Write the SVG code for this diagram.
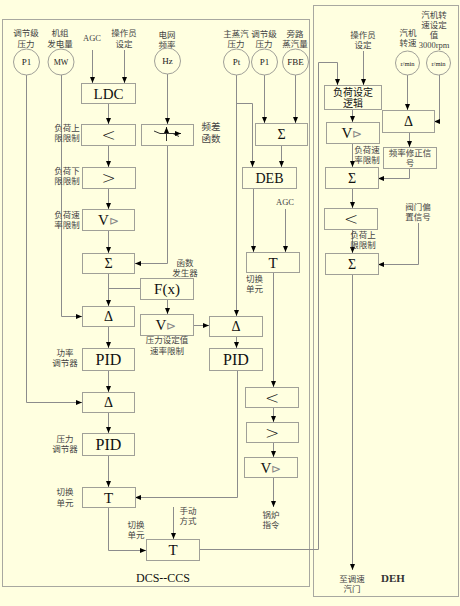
<svg xmlns="http://www.w3.org/2000/svg" width="460" height="606" viewBox="0 0 460 606">
<defs>
<marker id="a" markerWidth="6" markerHeight="6" refX="6" refY="3" orient="auto" markerUnits="userSpaceOnUse"><path d="M0,0.5 L6,3 L0,5.5 z" fill="#000"/></marker>
<style>
.bg{fill:#FFFFE0}
.frame{fill:none;stroke:#a8a8a0;stroke-width:1}
.box{fill:#FFFFE0;stroke:#a0a098;stroke-width:1}
.c{fill:none;stroke:#8c8c8c;stroke-width:1}
.ar{marker-end:url(#a)}
.lb{font-family:"Liberation Serif","Noto Sans CJK SC",serif;font-size:8.5px;fill:#444;text-anchor:middle}
.bt{font-family:"Liberation Serif","Noto Sans CJK SC",serif;font-size:15px;fill:#111;text-anchor:middle}
.cmp{font-family:"DejaVu Sans",sans-serif;font-size:17px;fill:#222;text-anchor:middle;font-weight:200}
.ct{font-family:"Liberation Serif",serif;font-size:9px;fill:#222;text-anchor:middle}
.gr{fill:#888}
</style>
</defs>
<rect class="bg" x="0" y="0" width="460" height="606"/>
<rect class="frame" x="2.5" y="19.5" width="307" height="567"/>
<rect class="frame" x="313.5" y="5.5" width="145" height="591"/>

<g id="connectors">
<path class="c ar" d="M92.5,50 V83"/>
<path class="c ar" d="M124.5,50 V83"/>
<path class="c ar" d="M108.5,103 V124"/>
<path class="c ar" d="M108.5,145 V167"/>
<path class="c ar" d="M108.5,188 V209"/>
<path class="c ar" d="M108.5,230 V253"/>
<path class="c ar" d="M108.5,273 V306"/>
<path class="c" d="M108.5,288.5 H140"/>
<path class="c ar" d="M108.5,326 V348"/>
<path class="c ar" d="M108.5,370 V392"/>
<path class="c ar" d="M108.5,412 V433"/>
<path class="c ar" d="M108.5,455 V487"/>
<path class="c ar" d="M108.5,507 V550.5 H146"/>
<path class="c ar" d="M61.5,75 V316.5 H82"/>
<path class="c ar" d="M26.5,75 V402.5 H82"/>
<path class="c ar" d="M167.5,74 V124"/>
<path class="c ar" d="M167.5,145 V263.5 H135"/>
<path class="c ar" d="M167.5,299 V314"/>
<path class="c ar" d="M193,325.5 H209"/>
<path class="c ar" d="M236.5,75 V316"/>
<path class="c ar" d="M236.5,103.5 H252.5 V167"/>
<path class="c ar" d="M264.5,75 V123"/>
<path class="c ar" d="M295.5,75 V123"/>
<path class="c ar" d="M281.5,145 V167"/>
<path class="c ar" d="M253.5,188 V252"/>
<path class="c ar" d="M285.5,209 V252"/>
<path class="c ar" d="M273.5,272 V387"/>
<path class="c ar" d="M273.5,407 V422"/>
<path class="c ar" d="M273.5,442 V457"/>
<path class="c ar" d="M273.5,477 V507"/>
<path class="c ar" d="M236.5,336 V348"/>
<path class="c ar" d="M237.5,370 V497.5 H135"/>
<path class="c ar" d="M173.5,507 V539"/>
<path class="c ar" d="M199,549.5 H318.5 V62.5 H337.5 V85"/>
<path class="c ar" d="M363.5,51 V85"/>
<path class="c ar" d="M352.5,109 V122"/>
<path class="c ar" d="M352.5,143 V167"/>
<path class="c ar" d="M407.5,75 V110"/>
<path class="c ar" d="M439.5,75 V121.5 H434"/>
<path class="c ar" d="M409.5,132 V147"/>
<path class="c ar" d="M409.5,168 V178.5 H378"/>
<path class="c ar" d="M352.5,188 V208"/>
<path class="c ar" d="M352.5,229 V253"/>
<path class="c ar" d="M418.5,223 V264.5 H378"/>
<path class="c ar" d="M352.5,274 V570"/>
</g>

<g id="src-p1-left"><text class="lb" x="26" y="36">调节级</text><text class="lb" x="26" y="47">压力</text><circle class="box" cx="26.5" cy="62" r="13"/><text class="ct" x="26.5" y="65">P1</text></g>
<g id="src-mw"><text class="lb" x="60" y="36">机组</text><text class="lb" x="60" y="47">发电量</text><circle class="box" cx="61" cy="62" r="13"/><text class="ct" x="61" y="65" style="font-size:8px">MW</text></g>
<g id="src-agc"><text class="lb" x="92" y="41">AGC</text></g>
<g id="src-op"><text class="lb" x="124" y="36">操作员</text><text class="lb" x="124" y="47">设定</text></g>
<g id="src-hz"><text class="lb" x="167" y="38">电网</text><text class="lb" x="167" y="48">频率</text><circle class="box" cx="167.5" cy="61" r="13"/><text class="ct" x="167.5" y="64">Hz</text></g>
<g id="src-pt"><text class="lb" x="236" y="37">主蒸汽</text><text class="lb" x="236" y="47">压力</text><circle class="box" cx="236.5" cy="62" r="13"/><text class="ct" x="236.5" y="65">Pt</text></g>
<g id="src-p1-right"><text class="lb" x="264" y="37">调节级</text><text class="lb" x="264" y="47">压力</text><circle class="box" cx="264.5" cy="62" r="13"/><text class="ct" x="264.5" y="65">P1</text></g>
<g id="src-fbe"><text class="lb" x="295" y="37">旁路</text><text class="lb" x="295" y="47">蒸汽量</text><circle class="box" cx="295.5" cy="62" r="13"/><text class="ct" x="295.5" y="65">FBE</text></g>

<g id="ldc"><rect class="box" x="81.5" y="83.5" width="54" height="20"/><text class="bt" x="108.5" y="99">LDC</text></g>
<g id="lim-up"><rect class="box" x="81.5" y="124.5" width="54" height="21"/><text class="cmp" x="108.5" y="141">&lt;</text><text class="lb" x="67" y="131">负荷上</text><text class="lb" x="67" y="141">限限制</text></g>
<g id="lim-down"><rect class="box" x="82.5" y="167.5" width="53" height="21"/><text class="cmp" x="108.5" y="184">&gt;</text><text class="lb" x="67" y="174">负荷下</text><text class="lb" x="67" y="184">限限制</text></g>
<g id="rate-load"><rect class="box" x="82.5" y="209.5" width="52" height="21"/><text class="bt" x="108.5" y="225">V<tspan class="gr" style="font-size:12px">⊳</tspan></text><text class="lb" x="67" y="218">负荷速</text><text class="lb" x="67" y="228">率限制</text></g>
<g id="sum-left"><rect class="box" x="82.5" y="253.5" width="52" height="20"/><text class="bt" x="108.5" y="268" style="font-size:14px">Σ</text></g>
<g id="delta-power"><rect class="box" x="82.5" y="306.5" width="52" height="20"/><text class="bt" x="108.5" y="321" style="font-size:14px">Δ</text></g>
<g id="pid-power"><rect class="box" x="82.5" y="348.5" width="52" height="22"/><text class="bt" x="108.5" y="365" style="font-size:16px">PID</text><text class="lb" x="65" y="356">功率</text><text class="lb" x="65" y="366">调节器</text></g>
<g id="delta-press"><rect class="box" x="82.5" y="392.5" width="52" height="20"/><text class="bt" x="108.5" y="407" style="font-size:14px">Δ</text></g>
<g id="pid-press"><rect class="box" x="82.5" y="433.5" width="52" height="22"/><text class="bt" x="108.5" y="450" style="font-size:16px">PID</text><text class="lb" x="65" y="442">压力</text><text class="lb" x="65" y="452">调节器</text></g>
<g id="t-left"><rect class="box" x="82.5" y="487.5" width="53" height="20"/><text class="bt" x="108.5" y="503">T</text><text class="lb" x="65" y="495">切换</text><text class="lb" x="65" y="506">单元</text></g>
<g id="t-bottom"><rect class="box" x="146.5" y="539.5" width="53" height="21"/><text class="bt" x="173" y="555">T</text><text class="lb" x="136" y="528">切换</text><text class="lb" x="136" y="538">单元</text><text class="lb" x="188" y="514">手动</text><text class="lb" x="188" y="524">方式</text></g>

<g id="freq-func"><rect class="box" x="141.5" y="124.5" width="52" height="21"/>
<path class="c" d="M154,131 L160,133.5 H173 L179,136.5" style="stroke:#333"/>
<path class="c ar" d="M166.5,141 V127" style="stroke:#333"/>
<path class="c ar" d="M173,133.5 H181" style="stroke:#333"/>
<text class="lb" x="211" y="130" style="font-size:9.5px">频差</text><text class="lb" x="211" y="142" style="font-size:9.5px">函数</text></g>
<g id="fx"><rect class="box" x="140.5" y="278.5" width="53" height="21"/><text class="bt" x="167" y="294">F(x)</text><text class="lb" x="185" y="266">函数</text><text class="lb" x="185" y="276">发生器</text></g>
<g id="rate-press"><rect class="box" x="140.5" y="314.5" width="53" height="21"/><text class="bt" x="166" y="330">V<tspan class="gr" style="font-size:12px">⊳</tspan></text><text class="lb" x="167" y="343">压力设定值</text><text class="lb" x="167" y="354">速率限制</text></g>
<g id="delta-boiler"><rect class="box" x="209.5" y="316.5" width="53" height="20"/><text class="bt" x="236" y="331" style="font-size:14px">Δ</text></g>
<g id="pid-boiler"><rect class="box" x="209.5" y="348.5" width="53" height="22"/><text class="bt" x="236" y="365" style="font-size:16px">PID</text></g>
<g id="sum-right"><rect class="box" x="255.5" y="123.5" width="52" height="22"/><text class="bt" x="281.5" y="139" style="font-size:14px">Σ</text></g>
<g id="deb"><rect class="box" x="242.5" y="167.5" width="54" height="21"/><text class="bt" x="269.5" y="183" style="font-size:14px">DEB</text><text class="lb" x="285" y="205">AGC</text></g>
<g id="t-right"><rect class="box" x="246.5" y="252.5" width="53" height="20"/><text class="bt" x="273" y="268">T</text><text class="lb" x="246" y="282" style="text-anchor:start">切换</text><text class="lb" x="246" y="292" style="text-anchor:start">单元</text></g>
<g id="b-up"><rect class="box" x="245.5" y="387.5" width="53" height="20"/><text class="cmp" x="272" y="404">&lt;</text></g>
<g id="b-down"><rect class="box" x="246.5" y="422.5" width="52" height="20"/><text class="cmp" x="272" y="439">&gt;</text></g>
<g id="b-rate"><rect class="box" x="244.5" y="457.5" width="53" height="20"/><text class="bt" x="271" y="473">V<tspan class="gr" style="font-size:12px">⊳</tspan></text><text class="lb" x="271" y="518">锅炉</text><text class="lb" x="271" y="528">指令</text></g>
<g id="title-dcs"><text class="bt" x="163" y="582" style="font-size:12px">DCS--CCS</text></g>

<g id="deh-op"><text class="lb" x="363" y="38">操作员</text><text class="lb" x="363" y="48">设定</text></g>
<g id="deh-speed"><text class="lb" x="408" y="36">汽机</text><text class="lb" x="408" y="46">转速</text><circle class="box" cx="407.5" cy="63" r="12"/><text class="ct" x="407.5" y="65.5" style="font-size:6.5px">r/min</text></g>
<g id="deh-speedset"><text class="lb" x="434" y="18">汽机转</text><text class="lb" x="434" y="28">速设定</text><text class="lb" x="434" y="38">值</text><text class="lb" x="434" y="48">3000rpm</text><circle class="box" cx="438.5" cy="63" r="12"/><text class="ct" x="438.5" y="65.5" style="font-size:6.5px">r/min</text></g>
<g id="deh-logic"><rect class="box" x="324.5" y="85.5" width="57" height="24"/><text class="bt" x="353" y="96" style="font-size:10px">负荷设定</text><text class="bt" x="353" y="106.5" style="font-size:10px">逻辑</text></g>
<g id="deh-rate"><rect class="box" x="326.5" y="122.5" width="53" height="21"/><text class="bt" x="352" y="138">V<tspan class="gr" style="font-size:12px">⊳</tspan></text><text class="lb" x="367" y="153">负荷速</text><text class="lb" x="367" y="163">率限制</text></g>
<g id="deh-delta"><rect class="box" x="382.5" y="110.5" width="52" height="22"/><text class="bt" x="408.5" y="126" style="font-size:14px">Δ</text></g>
<g id="deh-freq"><rect class="box" x="383.5" y="147.5" width="53" height="21"/><text class="lb" x="410" y="156">频率修正信</text><text class="lb" x="410" y="166">号</text></g>
<g id="deh-sum1"><rect class="box" x="325.5" y="167.5" width="53" height="21"/><text class="bt" x="352" y="183" style="font-size:14px">Σ</text></g>
<g id="deh-lim"><rect class="box" x="324.5" y="208.5" width="53" height="21"/><text class="cmp" x="351" y="225">&lt;</text><text class="lb" x="363" y="238">负荷上</text><text class="lb" x="363" y="248">限限制</text></g>
<g id="deh-bias"><text class="lb" x="418" y="210">阀门偏</text><text class="lb" x="418" y="220">置信号</text></g>
<g id="deh-sum2"><rect class="box" x="325.5" y="253.5" width="53" height="21"/><text class="bt" x="352" y="269" style="font-size:14px">Σ</text></g>
<g id="deh-out"><text class="lb" x="352" y="582">至调速</text><text class="lb" x="352" y="592">汽门</text><text class="bt" x="393" y="582" style="font-size:11px;font-weight:bold;fill:#333">DEH</text></g>
</svg>
